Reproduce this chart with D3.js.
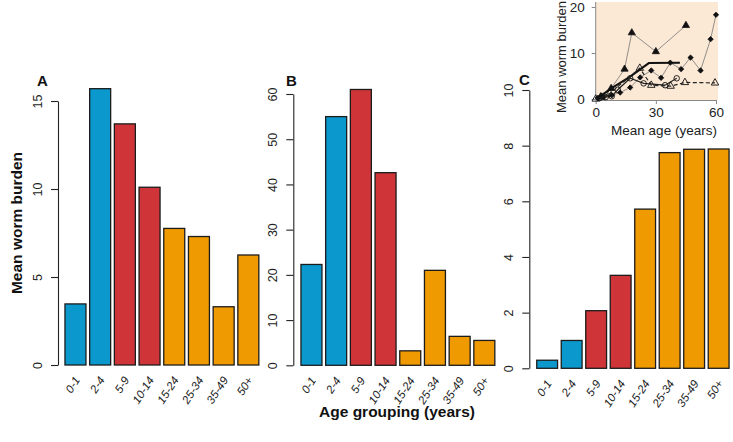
<!DOCTYPE html>
<html>
<head>
<meta charset="utf-8">
<script src="https://cdn.jsdelivr.net/npm/d3@7/dist/d3.min.js"></script>
<style>
  html, body { margin: 0; padding: 0; background: #fff; }
  svg { display: block; font-family: "Liberation Sans", Arial, sans-serif; }
</style>
</head>
<body>
<svg id="chart" width="733" height="442"></svg>
<script>
// ---------- data ----------
const ageGroups = ["0-1", "2-4", "5-9", "10-14", "15-24", "25-34", "35-49", "50+"];
const groupClass = ["young", "young", "school", "school", "adult", "adult", "adult", "adult"];
const panelAValues = [3.47, 15.7, 13.7, 10.1, 7.76, 7.3, 3.31, 6.25];
const panelBValues = [22.3, 55.0, 61.0, 42.6, 3.2, 21.0, 6.4, 5.5];
const panelCValues = [0.29, 1.0, 2.07, 3.34, 5.72, 7.75, 7.87, 7.88];
const panelATicks = [0, 5, 10, 15];
const panelBTicks = [0, 10, 20, 30, 40, 50, 60];
const panelCTicks = [0, 2, 4, 6, 8, 10];

// inset series (mean age, mean worm burden)
const insetTriFilledAge = [2.5, 7.7, 14.4, 18, 30, 45];
const insetTriFilledVal = [0.5, 2.3, 6.5, 14.4, 10.3, 16];
const insetDiamondAge = [1, 4, 8, 12.2, 17.2, 22.2, 27.7, 32.6, 37.2, 42.6, 47.3, 52.3, 57.3, 60];
const insetDiamondVal = [0.2, 0.5, 0.8, 1.4, 2.5, 4.7, 6.2, 4.6, 7.9, 6.5, 9.0, 6.2, 13, 18.3];
const insetThickAge = [1, 7, 17, 26.5, 42];
const insetThickVal = [0.2, 2.1, 4.8, 7.8, 7.9];
const insetTriOpenAge = [0, 3, 7, 22, 27.7, 37.4, 44.5, 59.5];
const insetTriOpenVal = [0, 0.4, 1.2, 6.7, 3.0, 2.8, 3.6, 3.5];
const insetCircleAge = [2, 5, 8, 11, 17.2, 23.9, 34.6, 40.4];
const insetCircleVal = [0.2, 0.4, 0.6, 2.0, 4.5, 3.4, 3.0, 4.5];
const insetXTicks = [0, 30, 60];
const insetYTicks = [0, 10, 20];

// ---------- styles ----------
const colors = { young: "#0A98CD", school: "#CF3538", adult: "#EF9A00" };

const svg = d3.select("#chart");

function panel(opt) {
  const x = d3.scaleBand().domain(ageGroups).range([opt.x0, opt.x1])
    .paddingInner(0.15).paddingOuter(0.1);
  const y = d3.scaleLinear().domain([0, opt.max]).range([opt.yb, opt.yt]);
  const g = svg.append("g");

  g.selectAll("rect.bar").data(opt.values).join("rect")
    .attr("class", "bar")
    .attr("x", (d, i) => x(ageGroups[i]))
    .attr("width", x.bandwidth())
    .attr("y", d => y(d))
    .attr("height", d => y(0) - y(d))
    .attr("fill", (d, i) => colors[groupClass[i]])
    .attr("stroke", "#1c1c1c")
    .attr("stroke-width", 1.3);

  const ax = g.append("g").attr("transform", `translate(${opt.axisX},0)`)
    .call(d3.axisLeft(y).tickValues(opt.ticks).tickSize(7).tickSizeOuter(0));
  ax.select(".domain").attr("stroke", "#222").attr("stroke-width", 1.1);
  ax.selectAll(".tick line").attr("stroke", "#222").attr("stroke-width", 1.1);
  ax.selectAll(".tick text")
    .attr("transform", "rotate(-90)")
    .attr("x", 0).attr("y", -16).attr("dy", 0)
    .attr("text-anchor", "middle")
    .attr("font-size", 12.5)
    .attr("font-family", "Liberation Sans, Arial, sans-serif")
    .attr("fill", "#222");

  g.selectAll("text.cat").data(ageGroups).join("text")
    .attr("class", "cat")
    .attr("transform", d => `translate(${x(d) + x.bandwidth() / 2 + 5},${opt.yb + 15}) rotate(-57)`)
    .attr("text-anchor", "end")
    .attr("font-size", 11.5)
    .attr("font-style", "italic")
    .attr("fill", "#222")
    .text(d => d);

  g.append("text").attr("x", opt.labelX).attr("y", opt.labelY)
    .attr("font-size", 15).attr("font-weight", "bold").attr("fill", "#111")
    .text(opt.label);
}

panel({ values: panelAValues, ticks: panelATicks, max: 15, x0: 62.5, x1: 261.3, yb: 365, yt: 101, axisX: 58, label: "A", labelX: 37, labelY: 86 });
panel({ values: panelBValues, ticks: panelBTicks, max: 60, x0: 298.5, x1: 497.3, yb: 365.3, yt: 94, axisX: 293.3, label: "B", labelX: 286, labelY: 86 });
panel({ values: panelCValues, ticks: panelCTicks, max: 10, x0: 534.3, x1: 731.5, yb: 368.3, yt: 90, axisX: 529.3, label: "C", labelX: 519, labelY: 85 });

// axis titles
svg.append("text")
  .attr("transform", "translate(22,223) rotate(-90)")
  .attr("text-anchor", "middle")
  .attr("font-size", 15.5).attr("font-weight", "bold").attr("fill", "#111")
  .text("Mean worm burden");
svg.append("text")
  .attr("x", 397).attr("y", 417)
  .attr("text-anchor", "middle")
  .attr("font-size", 15.5).attr("font-weight", "bold").attr("fill", "#111")
  .text("Age grouping (years)");

// ---------- inset ----------
const ix = d3.scaleLinear().domain([0, 60]).range([595.7, 716]);
const iy = d3.scaleLinear().domain([0, 20]).range([99, 7]);
const ig = svg.append("g");
ig.append("rect").attr("x", 595.7).attr("y", 2).attr("width", 716 - 595.7 + 2).attr("height", 99 - 2 + 1)
  .attr("fill", "#FBE8D5");

const insetAx = ig.append("g").attr("transform", "translate(595.7,0)")
  .call(d3.axisLeft(iy).tickValues(insetYTicks).tickSize(4).tickSizeOuter(0).tickPadding(7));
const insetAxX = ig.append("g").attr("transform", "translate(0,100)")
  .call(d3.axisBottom(ix).tickValues(insetXTicks).tickSize(4).tickSizeOuter(0).tickPadding(3));
[insetAx, insetAxX].forEach(a => {
  a.select(".domain").attr("stroke", "#888");
  a.selectAll(".tick line").attr("stroke", "#888");
  a.selectAll(".tick text").attr("font-size", 13.5).attr("fill", "#222")
    .attr("font-family", "Liberation Sans, Arial, sans-serif");
});
insetAx.select(".domain").attr("d", "M0,2V100");

ig.append("text").attr("transform", "translate(566,57) rotate(-90)")
  .attr("text-anchor", "middle").attr("font-size", 13).attr("fill", "#222")
  .text("Mean worm burden");
ig.append("text").attr("x", 664).attr("y", 135)
  .attr("text-anchor", "middle").attr("font-size", 13.5).attr("fill", "#222")
  .text("Mean age (years)");

function series(ages, vals, lineOpt, marker) {
  const pts = ages.map((a, i) => [ix(a), iy(vals[i])]);
  ig.append("path").attr("d", d3.line()(pts)).attr("fill", "none")
    .attr("stroke", lineOpt.color).attr("stroke-width", lineOpt.width)
    .attr("stroke-dasharray", lineOpt.dash || null);
  if (!marker) return;
  const sym = d3.symbol().type(marker.type).size(marker.size);
  ig.selectAll(null).data(pts).join("path")
    .attr("transform", p => `translate(${p[0]},${p[1]})` + (marker.rot ? ` rotate(${marker.rot})` : ""))
    .attr("d", sym)
    .attr("fill", marker.fill).attr("stroke", "#111").attr("stroke-width", marker.sw || 0.8);
}

series(insetDiamondAge, insetDiamondVal, { color: "#777", width: 0.8 }, { type: d3.symbolSquare, size: 14, rot: 45, fill: "#111" });
series(insetTriFilledAge, insetTriFilledVal, { color: "#777", width: 0.8 }, { type: d3.symbolTriangle, size: 22, fill: "#111" });
series(insetThickAge, insetThickVal, { color: "#111", width: 2 }, null);
series(insetCircleAge, insetCircleVal, { color: "#222", width: 1.2 }, { type: d3.symbolCircle, size: 24, fill: "none", sw: 0.9 });
series(insetTriOpenAge, insetTriOpenVal, { color: "#222", width: 1.2, dash: "4,2.5" }, { type: d3.symbolTriangle, size: 24, fill: "none", sw: 0.9 });
</script>
</body>
</html>
